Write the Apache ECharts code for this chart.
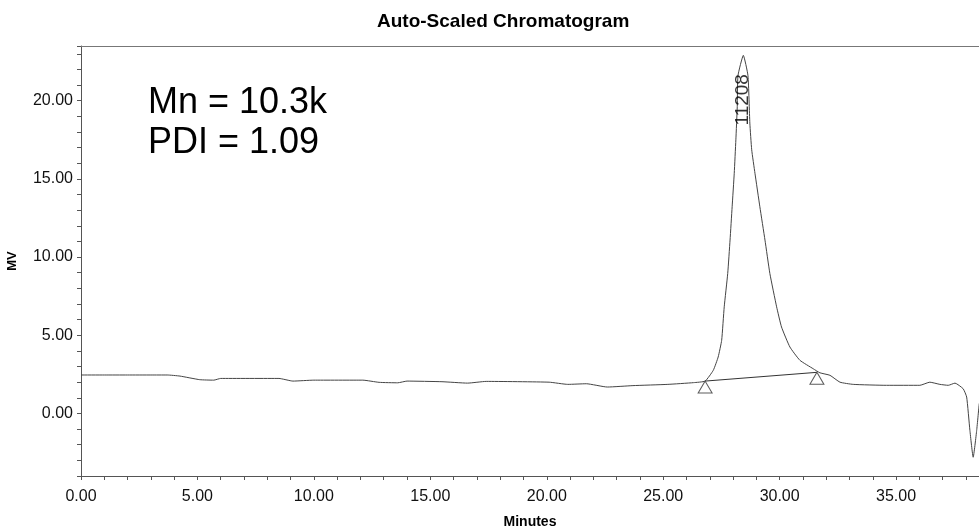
<!DOCTYPE html>
<html>
<head>
<meta charset="utf-8">
<script src="https://cdn.jsdelivr.net/npm/echarts@6/dist/echarts.min.js"></script>
<style>
html,body{margin:0;padding:0;background:#fff;}
#chart{width:979px;height:529px;}
</style>
</head>
<body>
<div id="chart"></div>
<script>
// Retention time (minutes) and detector signal (mV)
const times = [0, 1, 2, 3, 3.7, 4.25, 5.1, 5.7, 6.0, 8.5, 9.1, 10.0, 12.1, 12.8, 13.6, 14.0, 15.5, 16.6, 17.4, 20.1, 20.9, 21.7, 22.6, 23.7, 25.2, 26.3, 26.8,
  27.15, 27.36, 27.51, 27.62, 27.77, 27.87, 27.96, 28.05, 28.12, 28.18, 28.21, 28.44, 28.64, 28.72, 28.8, 28.94, 29.15, 29.37, 29.58, 29.87, 30.08, 30.44, 30.87, 31.44, 31.73,
  32.16, 32.59, 33.16, 34.59, 36.02, 36.45, 36.88, 37.24, 37.53, 37.88, 38.03, 38.17, 38.31, 38.46, 38.57];
const signal = [2.46, 2.46, 2.46, 2.46, 2.46, 2.39, 2.16, 2.13, 2.24, 2.24, 2.07, 2.13, 2.13, 1.99, 1.96, 2.07, 2.03, 1.94, 2.05, 2.0, 1.86, 1.9, 1.69, 1.78, 1.86, 1.97, 2.07,
  2.76, 3.61, 4.68, 6.82, 8.95, 11.09, 13.22, 15.36, 17.5, 19.63, 21.6, 22.9, 21.6, 18.57, 16.86, 15.36, 13.22, 11.09, 8.95, 6.82, 5.53, 4.25, 3.4, 2.86, 2.6,
  2.44, 2.0, 1.86, 1.8, 1.8, 2.0, 1.86, 1.8, 1.94, 1.58, 1.05, -1.09, -2.8, -1.09, 0.64];
// Integration baseline (start/end of peak)
const baseTimes = [26.8, 31.6];
const baseValues = [2.07, 2.63];
// Peak label
const peakTime = [28.42];
const peakLabelY = [20.06];
const peakLabels = ['11208'];
const textLines = ['Mn = 10.3k', 'PDI = 1.09'];
const chartTitle = 'Auto-Scaled Chromatogram';
const xName = 'Minutes';
const yName = 'MV';

const curve = times.map((t, i) => [t, signal[i]]);
const base = baseTimes.map((t, i) => [t, baseValues[i]]);
const peakPts = peakTime.map((t, i) => ({value: [t, peakLabelY[i]], name: peakLabels[i]}));

const FONT = '"Liberation Sans", Arial, sans-serif';
const chart = echarts.init(document.getElementById('chart'));
chart.setOption({
  animation: false,
  backgroundColor: '#fff',
  textStyle: {fontFamily: FONT},
  title: {
    text: chartTitle, left: 377, top: 12, padding: 0,
    textStyle: {fontSize: 19, fontWeight: 'bold', color: '#000', fontFamily: FONT}
  },
  grid: {left: 81, right: 0, top: 46, bottom: 53, containLabel: false, outerBoundsMode: 'none'},
  graphic: [
    {type: 'text', left: 148, top: 85, style: {text: textLines[0], fontSize: 36, fill: '#000', fontFamily: FONT}},
    {type: 'text', left: 148, top: 125, style: {text: textLines[1], fontSize: 36, fill: '#000', fontFamily: FONT}}
  ],
  xAxis: [{
    type: 'value', min: 0, max: 38.56, interval: 1,
    name: xName, nameLocation: 'middle', nameGap: 39,
    nameTextStyle: {fontSize: 14, fontWeight: 'bold', color: '#000', fontFamily: FONT},
    axisLine: {show: true, onZero: false, lineStyle: {color: '#555', width: 1}},
    axisTick: {show: true, length: 4, lineStyle: {color: '#555'}},
    axisLabel: {margin: 13, fontSize: 16, color: '#111', fontFamily: FONT,
      formatter: v => (Math.abs(v % 5) < 1e-6 ? v.toFixed(2) : '')},
    splitLine: {show: false}
  }, {
    type: 'value', min: 0, max: 38.56, position: 'top',
    axisLine: {show: true, onZero: false, lineStyle: {color: '#777', width: 1}},
    axisTick: {show: false}, axisLabel: {show: false}, splitLine: {show: false}
  }],
  yAxis: {
    type: 'value', min: -4, max: 23.5, interval: 1,
    name: yName, nameLocation: 'middle', nameGap: 62,
    nameTextStyle: {fontSize: 13, fontWeight: 'bold', color: '#000', fontFamily: FONT},
    axisLine: {show: true, onZero: false, lineStyle: {color: '#555', width: 1}},
    axisTick: {show: true, length: 4, lineStyle: {color: '#555'}},
    axisLabel: {margin: 8, fontSize: 16, color: '#111', fontFamily: FONT,
      formatter: v => (Math.abs(v % 5) < 1e-6 ? v.toFixed(2) : '')},
    splitLine: {show: false}
  },
  series: [
    {type: 'line', data: curve, showSymbol: false, smooth: 0.15,
      lineStyle: {color: '#444', width: 1}, silent: true},
    {type: 'line', data: base, showSymbol: false,
      lineStyle: {color: '#333', width: 1}, silent: true},
    {type: 'scatter', data: base, symbol: 'triangle', symbolSize: [14, 12], symbolOffset: [0, 6],
      itemStyle: {color: '#fff', borderColor: '#333', borderWidth: 1}, silent: true, z: 5},
    {type: 'scatter', data: peakPts, symbolSize: 0, silent: true, z: 6,
      label: {show: true, position: 'inside', rotate: 90, formatter: p => p.name,
        fontSize: 19, color: '#000', fontFamily: FONT}}
  ]
});
</script>
</body>
</html>
